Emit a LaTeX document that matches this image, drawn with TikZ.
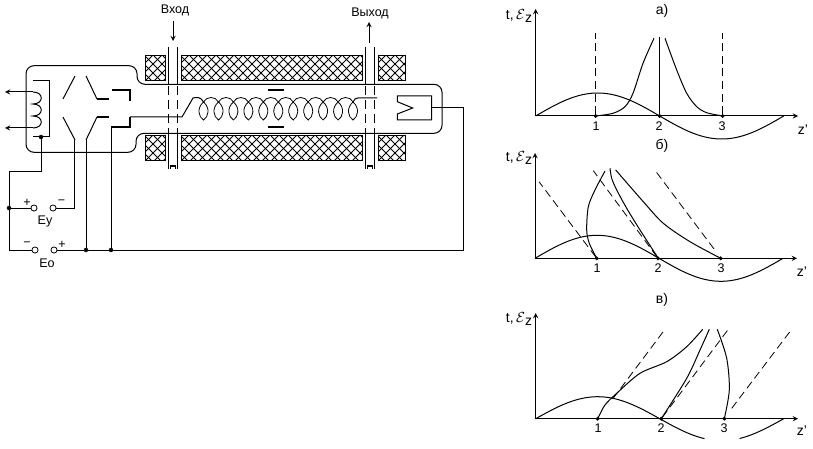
\documentclass[tikz,border=0pt]{standalone}
\usepackage{fontspec}
\setmainfont{Liberation Sans}
\tikzset{
  wire/.style={line width=0.75pt},
  thickbar/.style={line width=1.5pt},
  junction/.style={circle,draw=black,fill=black,line width=0.3pt,inner sep=0pt,minimum size=3pt},
  terminal/.style={circle,draw,fill=white,line width=0.6pt,inner sep=0pt,minimum size=4.6pt},
  caption/.style={inner sep=0pt,font=\fontsize{9.4}{11}\selectfont},
  biglabel/.style={inner sep=0pt,font=\fontsize{10.5}{12}\selectfont},
  slowdash/.style={line width=0.6pt,dash pattern=on 6pt off 3.4pt},
  pipedash/.style={line width=0.75pt,dash pattern=on 7pt off 3.5pt},
}
\newcommand{\hatchbox}[4]{
  \begin{scope}
    \clip (#1,#3) rectangle (#2,#4);
    \pgfmathsetmacro\hatchfirst{#1-27}
    \pgfmathsetmacro\hatchnext{#1-18}
    \foreach \x in {\hatchfirst,\hatchnext,...,#2} {
      \draw[line width=0.55pt] (\x,#3) -- ++(27,27);
      \draw[line width=0.55pt] (\x,#4) -- ++(27,-27);
    }
  \end{scope}
  \draw[wire] (#1,#3) rectangle (#2,#4);
}
\newcommand{\fieldlabel}{t,\,$\mathcal{E}$\raisebox{-2.5pt}{z}}
\begin{document}
\begin{tikzpicture}[x=0.75pt,y=-0.75pt,>=stealth]
  \useasboundingbox (0,0) rectangle (813,449);
  % magnet sections
  \hatchbox{145}{165}{56}{81}
  \hatchbox{181}{362}{56}{81}
  \hatchbox{378}{405}{56}{81}
  \hatchbox{145}{165}{136}{161}
  \hatchbox{181}{362}{136}{161}
  \hatchbox{378}{405}{136}{161}
  % tube envelope
  \draw[wire,rounded corners=6pt] (26,65.7) -- (137,65.7) -- (137,84.3) -- (442,84.3)
    -- (442,133.3) -- (136,133.3) -- (136,152.3) -- (26,152.3) -- cycle;
  % input and output waveguides
  \foreach \xa/\xb in {168/177,365/374} {
    \draw[wire] (\xa,47) -- (\xa,84);
    \draw[wire] (\xb,47) -- (\xb,84);
    \draw[pipedash] (\xa,86) -- (\xa,133);
    \draw[pipedash] (\xb,86) -- (\xb,133);
    \draw[wire] (\xa,133) -- (\xa,169);
    \draw[wire] (\xb,133) -- (\xb,169);
    \draw[wire] (\xa+2,169) -- (\xa+2,166) -- (\xb-2,166) -- (\xb-2,169);
  }
  \node[caption] (vhod) at (175,10) {Вход};
  \node[caption] (vyhod) at (370,13) {Выход};
  \coordinate (vhodA) at (173,21);
  \coordinate (vhodB) at (173,41);
  \coordinate (vyhodA) at (369,43);
  \coordinate (vyhodB) at (369,22);
  \draw[wire,->] (vhodA) -- (vhodB);
  \draw[wire,->] (vyhodA) -- (vyhodB);
  % helix
  \coordinate (helixin) at (182,117);
  \coordinate (helixtop) at (193,98);
  \draw[wire] (130,117) -- (helixin) -- (helixtop) .. controls (197,97) and (201,97) .. (203.5,102);
  \foreach \c in {203.5,218.5,233.4,248.4,263.3,278.3,293.2,308.2,323.1,338.1} {
    \draw[line width=0.6pt] (\c,102) .. controls (\c+3,96) and (\c+12,96) .. (\c+15,102);
  }
  \foreach \c in {203.5,218.5,233.4,248.4,263.3,278.3,293.2,308.2,323.1,338.1,353} {
    \draw[line width=0.6pt] (\c,102) .. controls (\c-7,108) and (\c-5,117) .. (\c,120)
      .. controls (\c+5,117) and (\c+7,108) .. (\c,102);
  }
  \draw[wire] (353,102) .. controls (354,99) and (356,98) .. (358,98) -- (377,98);
  \draw[thickbar] (268,90.5) -- (284,90.5);
  \draw[thickbar] (268,126.7) -- (284,126.7);
  % gun electrodes
  \draw[wire] (63,99) -- (75,76);
  \draw[wire] (63,117) -- (75,140);
  \draw[wire] (86,76) -- (97,99);
  \draw[wire] (86,140) -- (97,117);
  \draw[thickbar] (97,99) -- (109,99);
  \draw[thickbar] (97,117) -- (109,117);
  \draw[thickbar] (112,90.5) -- (130,90.5) -- (130,101);
  \draw[thickbar] (111,127) -- (130,127) -- (130,117);
  % collector
  \draw[wire] (397.3,96) -- (431.7,96) -- (431.7,120) -- (397.3,120) -- (397.3,114)
    -- (412.7,108) -- (397.3,101.7) -- cycle;
  % heater coil
  \draw[wire] (33,81) -- (49.5,81) -- (49.5,137) -- (33,137);
  \coordinate (coilA) at (33,92);
  \coordinate (coilB) at (33,128);
  \coordinate (outA) at (5,92);
  \coordinate (outB) at (5,128);
  \draw[wire,->] (coilA) -- (outA);
  \draw[wire,->] (coilB) -- (outB);
  \draw[wire] (coilA) .. controls (44,92) and (44,104) .. (33,104)
    .. controls (44,104) and (44,116) .. (33,116)
    .. controls (44,116) and (44,128) .. (coilB);
  % supplies
  \node[junction] (cathode) at (41,137) {};
  \node[junction] (busL) at (9,208) {};
  \node[terminal] (eyL) at (34,208) {};
  \node[terminal] (eyR) at (53,208) {};
  \node[terminal] (eoL) at (35,250) {};
  \node[terminal] (eoR) at (54,250) {};
  \node[junction] (busA) at (86,250) {};
  \node[junction] (busB) at (111,250) {};
  \node[caption] (plusA) at (27,202.5) {+};
  \node[caption] (minusA) at (61.5,202.5) {−};
  \node[caption] (minusB) at (27,244.5) {−};
  \node[caption] (plusB) at (62,244.5) {+};
  \node[caption] (ey) at (45,221) {Еу};
  \node[caption] (eo) at (47,263) {Ео};
  \coordinate (plateA) at (74.5,140);
  \coordinate (plateB) at (86,140);
  \coordinate (plateC) at (111,127);
  \coordinate (colout) at (431.7,108);
  \draw[wire] (cathode) -- (41,171) -- (9,171) -- (busL);
  \draw[wire] (busL) -- (eyL);
  \draw[wire] (busL) -- (9,250) -- (eoL);
  \draw[wire] (eyR) -- (74.5,208) -- (plateA);
  \draw[wire] (plateB) -- (busA);
  \draw[wire] (plateC) -- (busB);
  \draw[wire] (eoR) -- (busA) -- (busB) -- (463.5,250) -- (463.5,108) -- (colout);
  % graph a
  \coordinate (oa) at (535.7,116);
  \node[junction,minimum size=2.6pt] (a1) at (595.7,116) {};
  \node[junction,minimum size=2.6pt] (a2) at (659.7,116) {};
  \node[junction,minimum size=2.6pt] (a3) at (722.7,116) {};
  \coordinate (ax) at (798,116);
  \coordinate (ay) at (535.7,9);
  \draw[wire,->] (oa) -- (ax);
  \draw[wire,->] (oa) -- (ay);
  \draw[wire] plot[domain=0:360,samples=50,smooth] ({535.7+\x*0.6889},{116-23*sin(\x)});
  \draw[slowdash] (a1) -- (595.7,33);
  \draw[slowdash] (a3) -- (722.7,33);
  \draw[wire] (a2) -- (659.7,37);
  \draw[wire] plot[smooth] coordinates {(595.7,116) (613,113.3) (625,106.7) (633,93.3) (643,63.3) (654,38.3)};
  \draw[wire] plot[smooth] coordinates {(665,38.3) (676.7,70) (686.7,93.3) (696.7,106.7) (706.7,112.7) (722.7,116)};
  \node[biglabel] (capa) at (662,11) {а)};
  \node[biglabel] (ya) at (519,16) {\fieldlabel};
  \node[biglabel] (zaxa) at (803,130) {z'};
  \node[caption] (n1a) at (596,126) {1};
  \node[caption] (n2a) at (659,126) {2};
  \node[caption] (n3a) at (722,126) {3};
  % graph b
  \coordinate (ob) at (535,258.3);
  \node[junction,minimum size=2.6pt] (b1) at (596.7,258.3) {};
  \node[junction,minimum size=2.6pt] (b2) at (658,258.3) {};
  \node[junction,minimum size=2.6pt] (b3) at (720.7,258.3) {};
  \coordinate (bx) at (797,258.3);
  \coordinate (by) at (535,153);
  \draw[wire,->] (ob) -- (bx);
  \draw[wire,->] (ob) -- (by);
  \draw[wire] plot[domain=0:360,samples=50,smooth] ({535+\x*0.6889},{258.3-23*sin(\x)});
  \draw[slowdash] (b1) -- (539,181.7);
  \draw[slowdash] (b2) -- (593.3,170.7);
  \draw[slowdash] (714,249) -- (654,169);
  \draw[wire] plot[smooth] coordinates {(596.7,258.3) (589.3,243.3) (586.7,230) (588.3,206.7) (595,190) (605,171)};
  \draw[wire] plot[smooth] coordinates {(658.3,258.3) (640,230) (626.7,208.3) (616.7,190) (611.7,178.3) (610,168.3)};
  \draw[wire] plot[smooth] coordinates {(720.7,258.3) (690,241.7) (663.3,223.3) (643.3,201.7) (615.7,170)};
  \node[biglabel] (capb) at (662,146) {б)};
  \node[biglabel] (yb) at (519,158) {\fieldlabel};
  \node[biglabel] (zaxb) at (802,272) {z'};
  \node[caption] (n1b) at (597,268) {1};
  \node[caption] (n2b) at (658,268) {2};
  \node[caption] (n3b) at (721,268) {3};
  % graph c
  \coordinate (oc) at (535.7,418.7);
  \node[junction,minimum size=2.6pt] (c1) at (597.7,418.7) {};
  \node[junction,minimum size=2.6pt] (c2) at (661.3,418.7) {};
  \node[junction,minimum size=2.6pt] (c3) at (724.3,418.7) {};
  \coordinate (cx) at (798,418.7);
  \coordinate (cy) at (535.7,313);
  \draw[wire,->] (oc) -- (cx);
  \draw[wire,->] (oc) -- (cy);
  \draw[wire] plot[domain=0:245,samples=40,smooth] ({535.7+\x*0.6889},{418.7-22*sin(\x)});
  \draw[wire] plot[domain=296:360,samples=12,smooth] ({535.7+\x*0.6889},{418.7-22*sin(\x)});
  \draw[slowdash] (613,398.5) -- (665,329.3);
  \draw[slowdash] (c2) -- (728.3,329.3);
  \draw[slowdash] (731.7,408.3) -- (791.7,329.3);
  \draw[wire] plot[smooth] coordinates {(597.7,418.7) (605,405) (616.7,393.3) (640,373.3) (666.7,361.7) (686.7,346.7) (702.7,329.3)};
  \draw[wire] plot[smooth] coordinates {(661.3,418.7) (686.7,378.3) (700,350) (709.3,329.3)};
  \draw[wire] plot[smooth] coordinates {(724.3,418.7) (729.3,390) (726.7,358.3) (717.3,329.3)};
  \node[biglabel] (capc) at (662,300) {в)};
  \node[biglabel] (yc) at (519,319) {\fieldlabel};
  \node[biglabel] (zaxc) at (802,431) {z'};
  \node[caption] (n1c) at (598,428) {1};
  \node[caption] (n2c) at (661,428) {2};
  \node[caption] (n3c) at (724,428) {3};
\end{tikzpicture}
\end{document}
